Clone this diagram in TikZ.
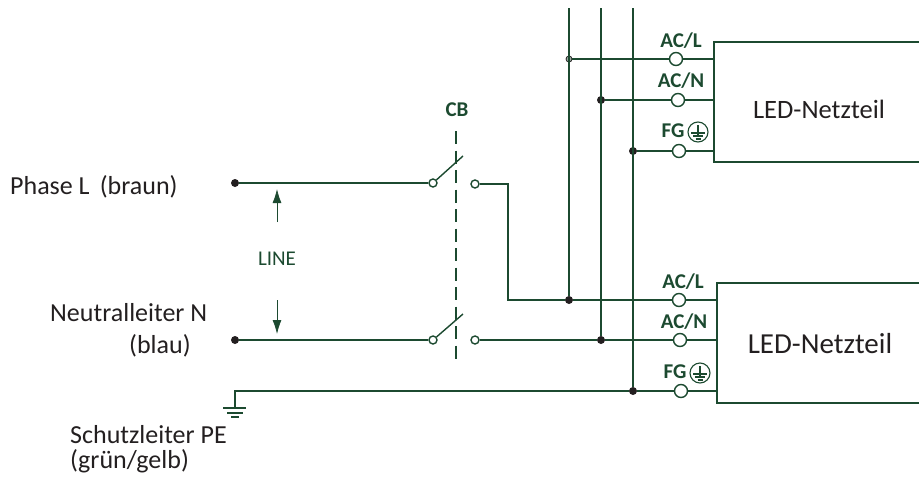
\documentclass[tikz,border=0pt]{standalone}
\usepackage{fontspec}
\setmainfont{Carlito}
\usetikzlibrary{arrows.meta}
\definecolor{wire}{HTML}{1C4A30}
\definecolor{ink}{HTML}{231F20}
\tikzset{
  wiring/.style={draw=wire,line width=1.4pt},
  dot/.style={circle,fill=ink,inner sep=0pt,minimum size=8pt},
  opendot/.style={circle,draw=ink,fill=wire!45,line width=.8pt,inner sep=0pt,minimum size=6pt},
  term/.style={circle,draw=wire,line width=1.4pt,fill=white,inner sep=0pt,minimum size=13pt},
  contact/.style={circle,draw=wire,line width=1.4pt,fill=white,inner sep=0pt,minimum size=8pt},
  pinlabel/.style={text=wire,font=\fontsize{21}{24}\selectfont\bfseries,inner sep=0pt},
  caption/.style={text=ink,font=\fontsize{26}{25}\selectfont,inner sep=0pt},
  earthmark/.pic={
    \draw[wire,line width=1.1pt] (0,0) circle (10);
    \draw[wire,line width=1.1pt] (0,-7) -- (0,3) (-7,1) -- (7,1) (-5,4) -- (5,4) (-2.5,7) -- (2.5,7);
  }
}
\begin{document}
\begin{tikzpicture}[x=1pt,y=-1pt]
\useasboundingbox (0,0) rectangle (919,480);
% mains side
\node[dot] (phase) at (235,183) {};
\node[dot] (neutral) at (235,340) {};
\node[contact] (phasein) at (433,183) {};
\node[contact] (phaseout) at (475,184) {};
\node[contact] (neutralin) at (433,340) {};
\node[contact] (neutralout) at (475,340) {};
\coordinate (phasetip) at (463,156);
\coordinate (neutraltip) at (463,314);
\coordinate (cbtop) at (456,131);
\coordinate (cbbottom) at (456,362);
\coordinate (bendtop) at (508,184);
\coordinate (bendlow) at (508,300);
\coordinate (pecorner) at (235,391);
\coordinate (peend) at (235,408);
% the three risers
\node[opendot] (riserL) at (569,59) {};
\node[dot] (riserN) at (601,100) {};
\node[dot] (riserE) at (633,151) {};
\node[dot] (lowL) at (569,300) {};
\node[dot] (lowN) at (601,340) {};
\node[dot] (lowE) at (633,391) {};
\coordinate (topL) at (569,8);
\coordinate (topN) at (601,8);
\coordinate (topE) at (633,8);
% terminals
\node[term] (acl1) at (676,59) {};
\node[term] (acn1) at (678,100) {};
\node[term] (fg1) at (679,151) {};
\node[term] (acl2) at (679,300) {};
\node[term] (acn2) at (680,340) {};
\node[term] (fg2) at (681,391) {};
\coordinate (acl1e) at (714,59);
\coordinate (acn1e) at (714,100);
\coordinate (fg1e) at (714,151);
\coordinate (acl2e) at (717,300);
\coordinate (acn2e) at (717,340);
\coordinate (fg2e) at (717,391);
% wires
\draw[wiring] (phase) -- (phasein);
\draw[wiring] (phasein) -- (phasetip);
\draw[wiring] (phaseout) -- (bendtop) -- (bendlow) -- (lowL);
\draw[wiring] (neutral) -- (neutralin);
\draw[wiring] (neutralin) -- (neutraltip);
\draw[wiring] (neutralout) -- (lowN);
\draw[wiring] (topL) -- (lowL);
\draw[wiring] (topN) -- (lowN);
\draw[wiring] (topE) -- (lowE);
\draw[wiring] (riserL) -- (acl1);
\draw[wiring] (riserN) -- (acn1);
\draw[wiring] (riserE) -- (fg1);
\draw[wiring] (lowL) -- (acl2);
\draw[wiring] (lowN) -- (acn2);
\draw[wiring] (lowE) -- (fg2);
\draw[wiring] (acl1) -- (acl1e);
\draw[wiring] (acn1) -- (acn1e);
\draw[wiring] (fg1) -- (fg1e);
\draw[wiring] (acl2) -- (acl2e);
\draw[wiring] (acn2) -- (acn2e);
\draw[wiring] (fg2) -- (fg2e);
\draw[wiring] (lowE) -- (pecorner) -- (peend);
\draw[wiring,dash pattern=on 13pt off 6.5pt] (cbtop) -- (cbbottom);
% earth
\draw[wiring] (223,408) -- (246,408) (227,413) -- (243,413) (231,417) -- (239,417);
% boxes, open to the right
\draw[wiring] (919,42) -- (714,42) -- (714,162) -- (919,162);
\draw[wiring] (919,283) -- (717,283) -- (717,403) -- (919,403);
\node[text=ink,font=\fontsize{26.5}{30}\selectfont,inner sep=0pt] (led1) at (819,109) {LED-Netzteil};
\node[text=ink,font=\fontsize{29}{32}\selectfont,inner sep=0pt] (led2) at (820,344) {LED-Netzteil};
% labels
\node[pinlabel] (cb) at (457,110) {CB};
\node[pinlabel] (acltop) at (681,41) {AC/L};
\node[pinlabel] (acntop) at (681,81) {AC/N};
\node[pinlabel] (fgtop) at (673,131) {FG};
\node[pinlabel] (acllow) at (683,282) {AC/L};
\node[pinlabel] (acnlow) at (684,322) {AC/N};
\node[pinlabel] (fglow) at (675,372) {FG};
\pic at (698,132) {earthmark};
\pic at (700,373) {earthmark};
\node[caption,anchor=west] (phasetext) at (10,187) {Phase L\, (braun)};
\node[caption,anchor=west] (neutraltext) at (50,313) {Neutralleiter N};
\node[caption,anchor=west] (bluetext) at (129,346) {(blau)};
\node[caption,anchor=west,align=left] (petext) at (70,449) {Schutzleiter PE\\(grün/gelb)};
% voltage arrows
\node[text=wire,font=\fontsize{21}{24}\selectfont,inner sep=0pt] (line) at (277,259) {LINE};
\coordinate (upfrom) at (277,222);
\coordinate (upto) at (277,189);
\coordinate (downfrom) at (277,300);
\coordinate (downto) at (277,334);
\draw[wire,line width=.8pt,-{Latex[length=14pt,width=9pt]}] (upfrom) -- (upto);
\draw[wire,line width=.8pt,-{Latex[length=14pt,width=9pt]}] (downfrom) -- (downto);
\end{tikzpicture}
\end{document}
